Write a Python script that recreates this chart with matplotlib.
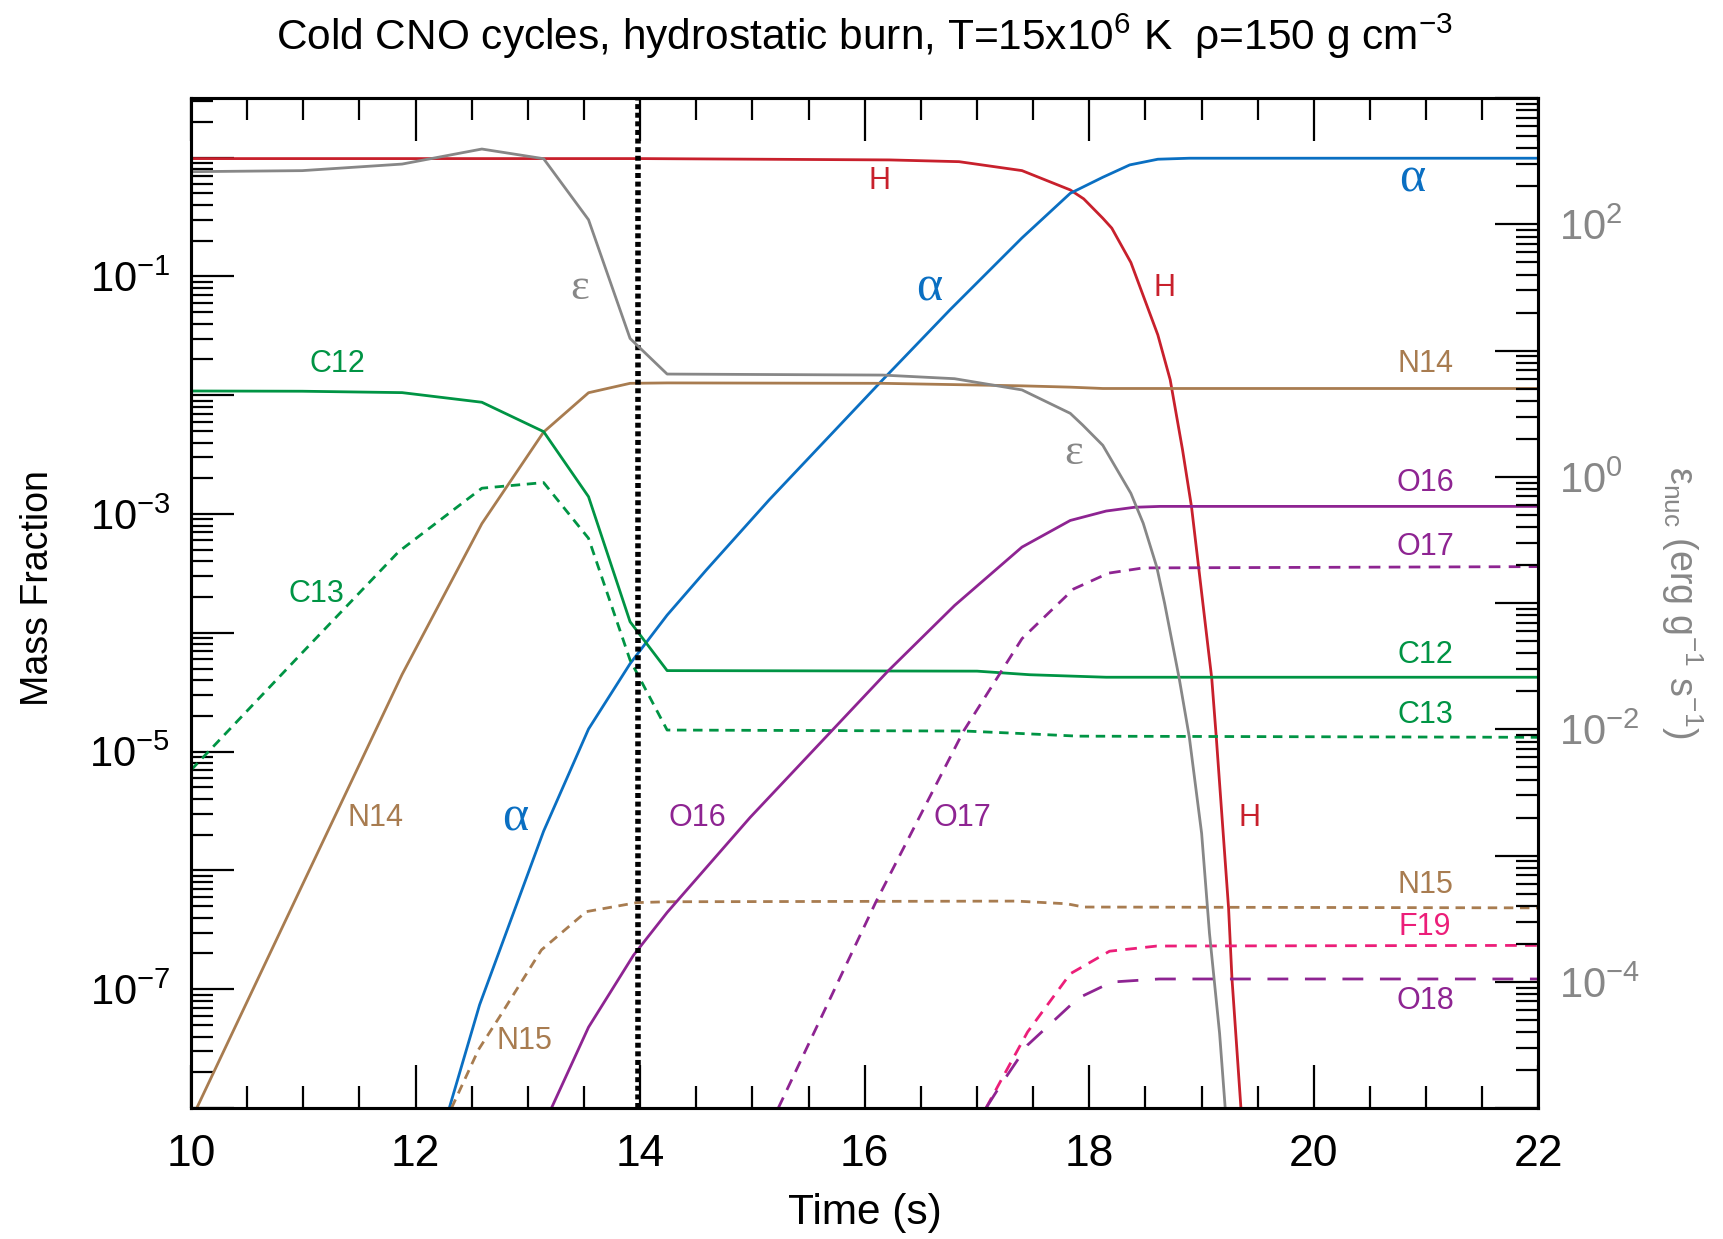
import numpy as np
import matplotlib
matplotlib.use("Agg")
import matplotlib.pyplot as plt
from matplotlib.ticker import MultipleLocator, FixedLocator, FuncFormatter, NullFormatter

plt.rcParams['font.family'] = ['Liberation Sans', 'DejaVu Sans']
plt.rcParams['mathtext.fontset'] = 'custom'
plt.rcParams['mathtext.rm'] = 'Liberation Sans'
plt.rcParams['mathtext.it'] = 'Liberation Sans'

# ---------------- data ----------------
t_H = [10.0, 12.0, 14.0, 16.22, 16.84, 17.40, 17.83, 17.95, 18.12, 18.20, 18.37,
       18.61, 18.72, 18.83, 18.91, 19.06, 19.09, 19.13, 19.24, 19.27, 19.35]
X_H = [0.982, 0.982, 0.982, 0.957, 0.925, 0.778, 0.535, 0.450, 0.309, 0.255, 0.131,
       0.0322, 0.0135, 3.47e-3, 1.15e-3, 7.18e-5, 4.15e-5, 1.34e-5, 4.81e-7, 1.24e-7, 1.0e-8]

t_He = [12.30, 12.57, 13.14, 13.54, 13.91, 14.24, 14.59, 15.15, 16.16, 16.76, 17.40,
        17.83, 18.12, 18.36, 18.61, 18.89, 22.0]
X_He = [1.0e-8, 7.4e-8, 2.14e-6, 1.55e-5, 5.5e-5, 1.41e-4, 3.39e-4, 1.32e-3, 1.35e-2,
        5.25e-2, 0.211, 0.501, 0.684, 0.869, 0.970, 0.989, 0.989]

t_C12 = [10.0, 10.99, 11.88, 12.59, 13.14, 13.54, 13.91, 14.24, 17.0, 17.47, 18.15, 22.0]
X_C12 = [0.01086, 0.01081, 0.01052, 8.73e-3, 4.94e-3, 1.40e-3, 1.24e-4, 4.81e-5,
         4.76e-5, 4.44e-5, 4.23e-5, 4.23e-5]

t_C13 = [10.0, 10.99, 11.85, 12.59, 13.14, 13.54, 13.91, 14.24, 16.9, 17.47, 17.9, 22.0]
X_C13 = [7.0e-6, 6.8e-5, 4.83e-4, 1.65e-3, 1.84e-3, 6.25e-4, 5.9e-5, 1.52e-5,
         1.49e-5, 1.41e-5, 1.35e-5, 1.32e-5]

t_N14 = [10.0, 10.99, 11.88, 12.59, 13.14, 13.54, 13.91, 14.24, 16.16, 17.40, 17.83, 18.12, 22.0]
X_N14 = [7.9e-9, 7.5e-7, 4.47e-5, 8.3e-4, 4.9e-3, 0.0105, 0.0126, 0.0127, 0.0126,
         0.0120, 0.0117, 0.0114, 0.0114]

t_N15 = [12.32, 12.56, 12.75, 13.12, 13.52, 13.97, 14.24, 17.35, 17.80, 17.95, 22.0]
X_N15 = [1.0e-8, 3.1e-8, 5.9e-8, 2.14e-7, 4.5e-7, 5.36e-7, 5.45e-7, 5.52e-7,
         5.24e-7, 4.92e-7, 4.84e-7]

t_O16 = [13.21, 13.54, 13.94, 14.24, 14.98, 16.21, 16.80, 17.40, 17.83, 18.15, 18.40, 18.63, 22.0]
X_O16 = [1.0e-8, 4.79e-8, 1.93e-7, 4.43e-7, 2.80e-6, 4.80e-5, 1.70e-4, 5.27e-4,
         8.83e-4, 1.06e-3, 1.14e-3, 1.16e-3, 1.16e-3]

t_O17 = [15.23, 16.10, 16.88, 17.40, 17.65, 17.86, 18.17, 18.48, 22.0]
X_O17 = [1.0e-8, 5.45e-7, 1.49e-5, 8.93e-5, 1.51e-4, 2.34e-4, 3.18e-4, 3.52e-4, 3.61e-4]

t_F19 = [17.08, 17.20, 17.45, 17.83, 18.18, 18.60, 22.0]
X_F19 = [1.0e-8, 1.62e-8, 4.37e-8, 1.35e-7, 2.09e-7, 2.31e-7, 2.34e-7]

t_O18 = [17.08, 17.20, 17.45, 17.90, 18.20, 18.62, 22.0]
X_O18 = [1.0e-8, 1.51e-8, 3.39e-8, 8.41e-8, 1.15e-7, 1.22e-7, 1.22e-7]

t_eps = [10.0, 10.99, 11.88, 12.59, 13.14, 13.54, 13.91, 14.24, 16.16, 16.80, 17.40,
         17.83, 17.94, 18.12, 18.37, 18.48, 18.60, 18.67, 18.80, 18.89, 19.00, 19.07, 19.16, 19.21]
eps_nuc = [262, 267, 301, 396, 332, 109, 12.5, 6.53, 6.41, 6.0, 4.89, 3.19, 2.58, 1.78,
           0.741, 0.429, 0.194, 0.1, 0.0254, 8.73e-3, 1.50e-3, 2.42e-4, 3.90e-5, 1.0e-5]

t_mark = 13.98

left_labeled_exp = [-7, -5, -3, -1]
right_labeled_exp = [-4, -2, 0, 2]

# ---------------- style ----------------
RED = '#c8202c'
BLUE = '#0a6fc2'
GRAY = '#878787'
BROWN = '#a87c50'
GREEN = '#009444'
PURPLE = '#8e2492'
PINK = '#ec1e79'

fig = plt.figure(figsize=(17.24, 12.39), dpi=100)
ax = fig.add_axes([0.1108, 0.1057, 0.7816, 0.8150])
ax.set_yscale('log')
ax.set_xlim(10, 22)
ax.set_ylim(1e-8, 10 ** 0.5)

lw = 2.0
short = (0, (3.4, 2.4))
ax.plot(t_H, X_H, color=RED, lw=lw)
ax.plot(t_He, X_He, color=BLUE, lw=lw)
ax.plot(t_N14, X_N14, color=BROWN, lw=lw)
ax.plot(t_C12, X_C12, color=GREEN, lw=lw)
ax.plot(t_C13, X_C13, color=GREEN, lw=lw, linestyle=short)
ax.plot(t_N15, X_N15, color=BROWN, lw=lw, linestyle=short)
ax.plot(t_O16, X_O16, color=PURPLE, lw=lw)
ax.plot(t_O17, X_O17, color=PURPLE, lw=lw, linestyle=(0, (4.2, 3.0)))
ax.plot(t_F19, X_F19, color=PINK, lw=lw, linestyle=(0, (4.2, 3.0)))
ax.plot(t_O18, X_O18, color=PURPLE, lw=lw, linestyle=(0, (7.5, 6.0)))
ax.axvline(t_mark, color='black', lw=4.0, linestyle=(0, (0.9, 0.65)), dash_capstyle='butt')

ax2 = ax.twinx()
ax2.set_yscale('log')
ax2.set_ylim(1e-5, 1e3)
ax2.plot(t_eps, eps_nuc, color=GRAY, lw=lw)

# ticks
ax.xaxis.set_major_locator(MultipleLocator(2))
ax.xaxis.set_minor_locator(MultipleLocator(0.5))


def setup_log_ticks(a, labeled, lo, hi, color):
    major = [10.0 ** e for e in labeled]
    minor = []
    long_minor = []
    for e in range(lo, hi + 1):
        for m in range(1, 10):
            v = m * 10.0 ** e
            if m == 1 and e in labeled:
                continue
            minor.append(v)
            if m == 1:
                long_minor.append(v)
    a.yaxis.set_major_locator(FixedLocator(major))
    a.yaxis.set_minor_locator(FixedLocator(minor))
    a.yaxis.set_major_formatter(FuncFormatter(
        lambda v, pos: r'$\mathregular{10^{%d}}$' % int(round(np.log10(v)))))
    a.yaxis.set_minor_formatter(NullFormatter())
    return long_minor


long_left = setup_log_ticks(ax, left_labeled_exp, -8, 0, 'k')
long_right = setup_log_ticks(ax2, right_labeled_exp, -5, 3, GRAY)

ax.tick_params(axis='x', which='major', direction='in', length=31, width=1.6,
               labelsize=32, top=True, pad=18.5)
ax.tick_params(axis='x', which='minor', direction='in', length=15.5, width=1.6, top=True)
ax.tick_params(axis='y', which='major', direction='in', length=31, width=1.6,
               labelsize=30, right=False, pad=15)
ax.tick_params(axis='y', which='minor', direction='in', length=15.5, width=1.6, right=False)
ax2.tick_params(axis='y', which='major', direction='in', length=31, width=1.6, labelsize=30,
                left=False, right=True, labelcolor=GRAY, pad=15)
ax2.tick_params(axis='y', which='minor', direction='in', length=15.5, width=1.6,
                left=False, right=True)

# unlabeled decades get long ticks
for a, longs in ((ax, long_left), (ax2, long_right)):
    locs = a.yaxis.get_minorticklocs()
    ticks = a.yaxis.get_minor_ticks(len(locs))
    for loc, tk in zip(locs, ticks):
        if any(abs(np.log10(loc) - np.log10(v)) < 1e-6 for v in longs):
            tk.tick1line.set_markersize(31)
            tk.tick2line.set_markersize(31)

for a in (ax, ax2):
    for s in a.spines.values():
        s.set_linewidth(2.2)

# labels
fig.text(0.5015, 0.971,
         r'Cold CNO cycles, hydrostatic burn, T=15x10$\mathregular{^{6}}$ K  ρ=150 g cm$\mathregular{^{-3}}$',
         ha='center', va='center', fontsize=30.5)
fig.text(0.5015, 0.021, 'Time (s)', ha='center', va='center', fontsize=30.5)
fig.text(0.0223, 0.5254, 'Mass Fraction', ha='center', va='center', rotation=90, fontsize=27)
fig.text(0.9757, 0.5137,
         r'ε$\mathregular{_{nuc}}$ (erg g$\mathregular{^{-1}}$ s$\mathregular{^{-1}}$)',
         ha='center', va='center', rotation=-90, fontsize=27, color=GRAY)

annotations = [
    ("H", 16.127, -0.200, RED), ("α", 20.874, -0.181, BLUE), ("ε", 13.465, -1.098, GRAY),
    ("α", 16.577, -1.098, BLUE), ("H", 18.672, -1.098, RED), ("C12", 11.302, -1.737, GREEN),
    ("N14", 20.99, -1.737, BROWN), ("ε", 17.859, -2.487, GRAY), ("O16", 20.99, -2.737, PURPLE),
    ("O17", 20.99, -3.274, PURPLE), ("C13", 11.116, -3.672, GREEN), ("C12", 20.99, -4.190, GREEN),
    ("C13", 20.99, -4.690, GREEN), ("N14", 11.644, -5.560, BROWN), ("α", 12.887, -5.560, BLUE),
    ("O16", 14.512, -5.560, PURPLE), ("O17", 16.871, -5.560, PURPLE), ("H", 19.425, -5.560, RED),
    ("N15", 20.99, -6.125, BROWN), ("F19", 20.99, -6.477, PINK), ("O18", 20.99, -7.097, PURPLE),
    ("N15", 12.966, -7.439, BROWN),
]
for txt, x, ly, c in annotations:
    if txt == "α":
        ax.text(x, 10 ** ly, txt, color=c, fontsize=36, ha='center', va='center',
                family=['Liberation Serif', 'DejaVu Serif'])
    elif txt == "ε":
        ax.text(x, 10 ** ly, txt, color=c, fontsize=32, ha='center', va='center',
                family=['Liberation Serif', 'DejaVu Serif'])
    else:
        ax.text(x, 10 ** ly, txt, color=c, fontsize=22, ha='center', va='center')

fig.savefig('out.png', dpi=100)
